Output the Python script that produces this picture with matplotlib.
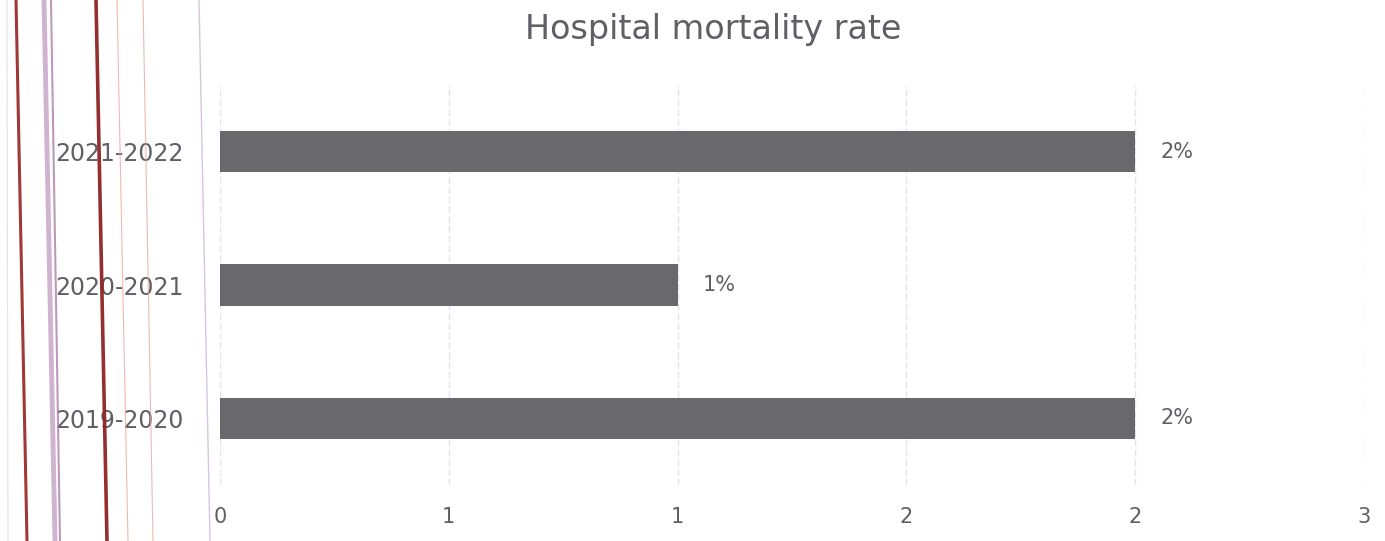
import matplotlib
matplotlib.use("Agg")
import matplotlib.pyplot as plt
from matplotlib.lines import Line2D

# data
periods = ["2019-2020", "2020-2021", "2021-2022"]
mortality = [2, 1, 2]
value_labels = ["2%", "1%", "2%"]
x_ticks = [0, 0.5, 1, 1.5, 2, 2.5]
x_tick_labels = ["0", "1", "1", "2", "2", "3"]

W, H = 1385, 541
text_col = "#5f5f66"
bar_col = "#69696d"
grid_col = "#e3e5ee"

plt.rcParams['font.family'] = ['DejaVu Sans']

fig = plt.figure(figsize=(W / 100, H / 100), dpi=100)
ax = fig.add_axes([220 / W, 1 - 485 / H, (1364 - 220) / W, (485 - 85) / H])

ypos = list(range(len(periods)))
bars = ax.barh(ypos, mortality, height=0.31, color=bar_col, zorder=3)

for b, lab in zip(bars, value_labels):
    ax.annotate(lab, (b.get_width(), b.get_y() + b.get_height() / 2),
                xytext=(25, 0), textcoords="offset pixels",
                va="center", ha="left", fontsize=15, color=text_col)

ax.set_xlim(0, 2.5)
ax.set_ylim(-0.5, 2.5)
ax.set_xticks(x_ticks)
ax.set_xticklabels(x_tick_labels, fontsize=15, color=text_col)
ax.set_yticks(ypos)
ax.set_yticklabels(periods, fontsize=17, color=text_col)
ax.tick_params(axis="both", length=0)
ax.tick_params(axis="y", pad=26)
ax.tick_params(axis="x", pad=16)
ax.xaxis.grid(True, color=grid_col, linewidth=1.0, linestyle=(0, (5, 2)), zorder=0)
for s in ax.spines.values():
    s.set_visible(False)

fig.text(713 / W, 1 - 29 / H, "Hospital mortality rate", ha="center", va="center",
         fontsize=24, color=text_col)

# scanner streaks along the left edge (x_top, x_bottom, width, colour, alpha)
streaks = [
    (7, 8, 0.8, "#d0d0d8", 0.6),
    (16, 27, 2.2, "#9b2d2d", 0.95),
    (44, 55, 3.5, "#c4a0c4", 0.8),
    (51, 60, 1.5, "#a06ea0", 0.7),
    (96, 107, 2.6, "#8f2424", 0.95),
    (117, 128, 0.8, "#eba898", 0.8),
    (143, 153, 0.8, "#e6aa98", 0.8),
    (199, 210, 1.0, "#d8bce2", 0.9),
]
for xt, xb, lw, c, a in streaks:
    fig.add_artist(Line2D([xt / W, xb / W], [1, 0], transform=fig.transFigure,
                          color=c, linewidth=lw, alpha=a))

fig.savefig("out.png", dpi=100)
